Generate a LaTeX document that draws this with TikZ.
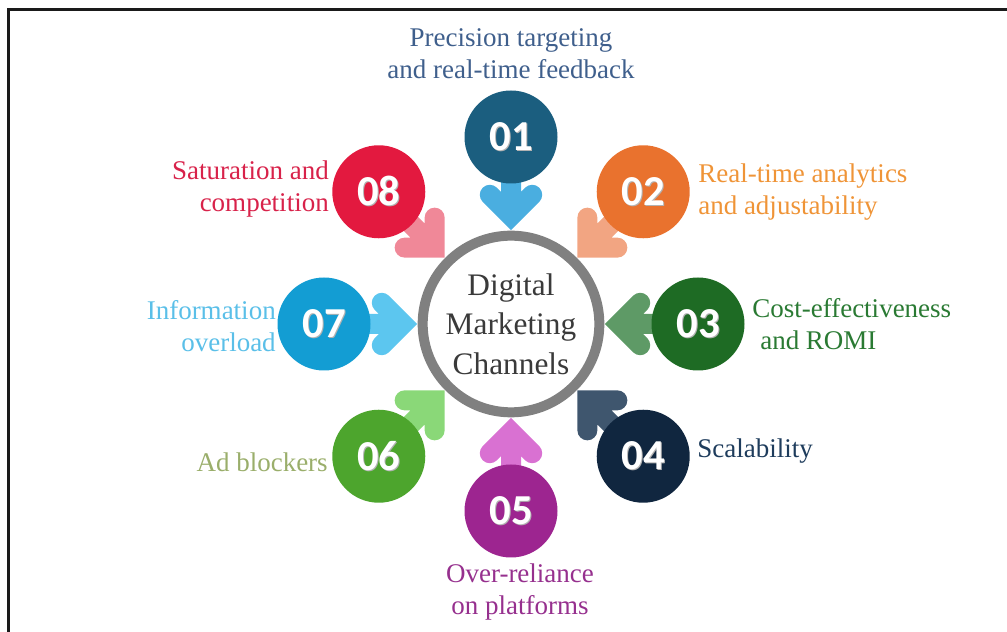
\documentclass[tikz,border=0pt]{standalone}
\usepackage{fontspec}
\setmainfont{Liberation Serif}
\newfontfamily\numfont{Carlito}
\usepackage{tikz}
\usetikzlibrary{calc,backgrounds}
\definecolor{blackmain}{HTML}{1A1A1A}
\definecolor{ringgray}{HTML}{808080}
\definecolor{hubtext}{HTML}{3A3A3A}
% disc / arrow / label colours, one set per channel
\definecolor{discA}{HTML}{1B5E7F}\definecolor{featA}{HTML}{4AAEE0}\definecolor{labA}{HTML}{3F5F8C}
\definecolor{discB}{HTML}{E9722E}\definecolor{featB}{HTML}{F2A582}\definecolor{labB}{HTML}{EF9437}
\definecolor{discC}{HTML}{1E6B24}\definecolor{featC}{HTML}{5E9A66}\definecolor{labC}{HTML}{2A7A33}
\definecolor{discD}{HTML}{10263F}\definecolor{featD}{HTML}{3F566E}\definecolor{labD}{HTML}{1E3C5C}
\definecolor{discE}{HTML}{9D2590}\definecolor{featE}{HTML}{D971D2}\definecolor{labE}{HTML}{96308E}
\definecolor{discF}{HTML}{4DA52D}\definecolor{featF}{HTML}{8AD878}\definecolor{labF}{HTML}{9AAE6B}
\definecolor{discG}{HTML}{139DD3}\definecolor{featG}{HTML}{5CC6EF}\definecolor{labG}{HTML}{5ABFE8}
\definecolor{discH}{HTML}{E3193F}\definecolor{featH}{HTML}{F08898}\definecolor{labH}{HTML}{D8224A}
\tikzset{every node/.append style={font=\rmfamily},
  numdisc/.style={circle,minimum size=69.75pt,inner sep=0pt,text=white,
    font=\numfont\bfseries\fontsize{32}{32}\selectfont},
  feed/.style={line width=15pt,line join=miter,line cap=round},
  lbl/.style={inner sep=0pt,font=\rmfamily\fontsize{20.25}{24}\selectfont}}
\newcommand{\shadenum}[1]{\makebox[0pt][l]{\hspace{0.9pt}\raisebox{-0.9pt}{\color{black!30}#1}}#1}

\begin{document}
\begin{tikzpicture}[x=.75pt,y=.75pt]
  \useasboundingbox (0,0) rectangle (1007,632);
  \draw[blackmain,line width=2.25pt] (8,0)--(8,622)--(1007,622);
  \coordinate (c) at (511,308);
  \node[circle,draw=ringgray,line width=7.5pt,minimum size=130.5pt,fill=white,
    align=center,text=hubtext,font=\rmfamily\fontsize{23.5}{29.5}\selectfont] (hub) at (c)
    {Digital\\Marketing\\Channels};
  \foreach \a/\n/\fc in {90/01/discA,45/02/discB,0/03/discC,-45/04/discD,
      -90/05/discE,-135/06/discF,180/07/discG,135/08/discH}
    \node[numdisc,fill=\fc] (d\n) at ($(c)+(\a:187)$) {\shadenum{\n}};
  % arrows pointing into the ring
  \begin{pgfonlayer}{background}
    \foreach \a/\n/\ac in {90/01/featA,45/02/featB,0/03/featC,-45/04/featD,
        -90/05/featE,-135/06/featF,180/07/featG,135/08/featH}{
      \coordinate (t\n) at ($(c)+(\a:108)$);
      \draw[feed,\ac] (d\n.center)--(t\n)
        ($(t\n)+(\a-45:30)$)--(t\n)--($(t\n)+(\a+45:30)$);
    }
  \end{pgfonlayer}
  \node[lbl,align=center,text=labA] (l01) at (511,578) {Precision targeting\\and real-time feedback};
  \node[lbl,align=left,anchor=west,text=labB] (l02) at (698,440) {Real-time analytics\\and adjustability};
  \node[lbl,align=left,anchor=west,text=labC] (l03) at (752,308) {Cost-effectiveness\\\hspace*{6pt}and ROMI};
  \node[lbl,anchor=west,text=labD] (l04) at (697,181) {Scalability};
  \node[lbl,align=center,text=labE] (l05) at (520,40) {Over-reliance\\on platforms};
  \node[lbl,anchor=east,text=labF] (l06) at (328,170) {Ad blockers};
  \node[lbl,align=right,anchor=east,text=labG] (l07) at (276,306) {Information\\overload};
  \node[lbl,align=right,anchor=east,text=labH] (l08) at (329,443) {Saturation and\\competition};
\end{tikzpicture}
\end{document}
